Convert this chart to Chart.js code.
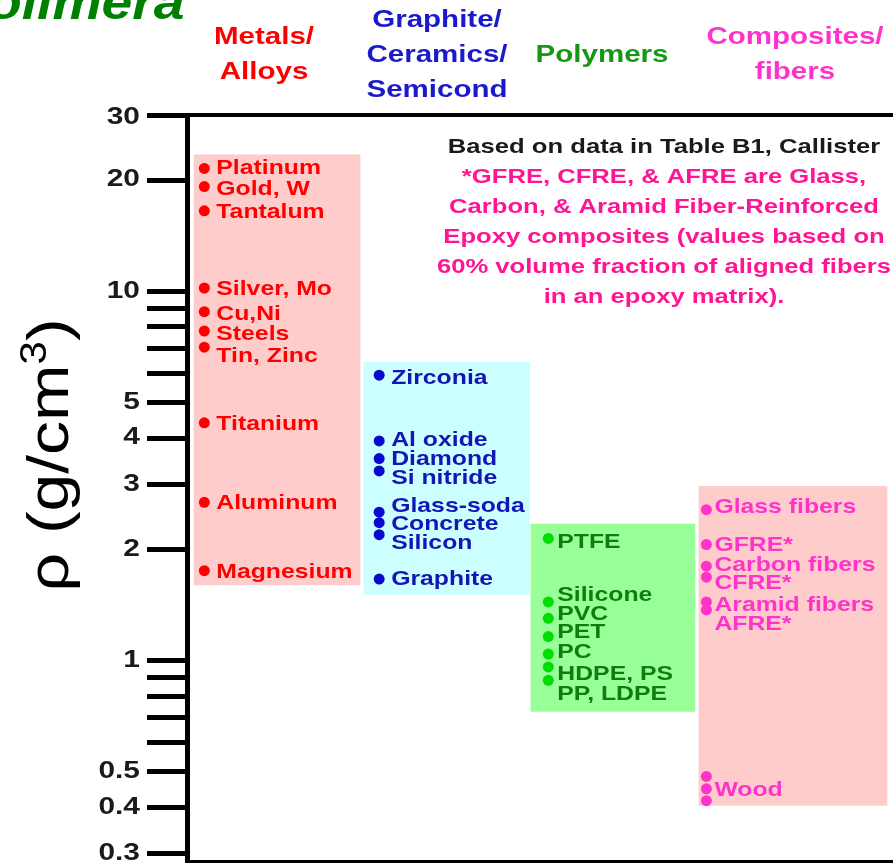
<!DOCTYPE html>
<html>
<head>
<meta charset="utf-8">
<title>Density of materials</title>
<script src="https://cdn.jsdelivr.net/npm/chart.js@4.4.0/dist/chart.umd.min.js"></script>
<style>
  html, body { margin: 0; padding: 0; background: #fff; overflow: hidden; }
  #wrap { width: 893px; height: 863px; overflow: hidden; position: relative; }
  canvas { display: block; }
</style>
</head>
<body>
<div id="wrap"><canvas id="densityChart" width="916" height="867"></canvas></div>
<script>
const columns = ['Metals/Alloys', 'Graphite/Ceramics/Semicond', 'Polymers', 'Composites/fibers']
const headerLines = [['Metals/', 'Alloys'], ['Graphite/', 'Ceramics/', 'Semicond'], ['Polymers'], ['Composites/', 'fibers']]

// density range of each family, g/cm3
const rangeLow = [1.6, 1.51, 0.727, 0.405]
const rangeHigh = [23.4, 6.42, 2.34, 2.96]

const metalNames = ['Platinum', 'Gold, W', 'Tantalum', 'Silver, Mo', 'Cu,Ni', 'Steels', 'Tin, Zinc', 'Titanium', 'Aluminum', 'Magnesium']
const metalDots = [21.5, 19.2, 16.5, 10.2, 8.8, 7.8, 7.05, 4.4, 2.68, 1.75]
const metalLabelAt = [21.5, 18.9, 16.4, 10.1, 8.67, 7.65, 6.67, 4.36, 2.66, 1.73]

const ceramicNames = ['Zirconia', 'Al oxide', 'Diamond', 'Si nitride', 'Glass-soda', 'Concrete', 'Silicon', 'Graphite']
const ceramicDots = [5.92, 3.93, 3.52, 3.26, 2.52, 2.36, 2.19, 1.66]
const ceramicLabelAt = [5.8, 3.95, 3.51, 3.12, 2.62, 2.34, 2.08, 1.66]

const polymerNames = ['PTFE', 'Silicone', 'PVC', 'PET', 'PC', 'HDPE, PS', 'PP, LDPE']
const polymerDots = [2.14, 1.44, 1.3, 1.16, 1.04, 0.96, 0.883]
const polymerLabelAt = [2.09, 1.5, 1.33, 1.19, 1.05, 0.917, 0.811]

const compositeNames = ['Glass fibers', 'GFRE*', 'Carbon fibers', 'CFRE*', 'Aramid fibers', 'AFRE*', 'Wood']
const compositeDots = [2.56, 2.06, 1.8, 1.68, 1.44, 1.37, 0.485, 0.449, 0.417]
const compositeLabelAt = [2.6, 2.05, 1.81, 1.62, 1.41, 1.25, 0.444]

const yTicks = [30, 20, 10, 9, 8, 7, 6, 5, 4, 3, 2, 1, 0.9, 0.8, 0.7, 0.6, 0.5, 0.4, 0.3]
const yTickLabels = ['30', '20', '10', '', '', '', '', '5', '4', '3', '2', '1', '', '', '', '', '0.5', '0.4', '0.3']

const noteLines = [
  'Based on data in Table B1, Callister',
  '*GFRE, CFRE, & AFRE are Glass,',
  'Carbon, & Aramid Fiber-Reinforced',
  'Epoxy composites (values based on',
  '60% volume fraction of aligned fibers',
  'in an epoxy matrix).'
]

const allNames = [metalNames, ceramicNames, polymerNames, compositeNames]
const allDots = [metalDots, ceramicDots, polymerDots, compositeDots]
const allLabelAt = [metalLabelAt, ceramicLabelAt, polymerLabelAt, compositeLabelAt]

// layout + colours
const colPos = [0.02, 1.0, 1.96, 3.0]
const boxWidth = [166, 166, 164, 188]
const dotShift = [-0.42, -0.39, -0.373, -0.5]
const labelGap = [12, 12, 9, 8]
const boxColor = ['#ffcccc', '#ccffff', '#99ff99', '#ffcccc']
const dotColor = ['#ff0000', '#0a0acc', '#00dd00', '#ff33cc']
const labelColor = ['#ff0000', '#1515b5', '#0d7d0d', '#ff33cc']
const headerColor = ['#ff0000', '#1a1acc', '#159915', '#ff33cc']
const headerX = [264, 437, 602, 795]
const headerY = [[37, 72], [20, 55, 90], [55], [37, 72]]
const labelFont = 'bold 21px "Liberation Sans", Arial, sans-serif'

let drawText = function(ctx, text, x, y, font, color, align, sx, baseline) {
  ctx.save()
  ctx.font = font
  ctx.fillStyle = color
  ctx.textBaseline = baseline || 'middle'
  ctx.textAlign = 'left'
  let w = ctx.measureText(text).width * sx
  let left = align === 'center' ? x - w / 2 : (align === 'right' ? x - w : x)
  ctx.translate(left, y)
  ctx.scale(sx, 1)
  ctx.fillText(text, 0, 0)
  ctx.restore()
}

const textPlugin = {
  id: 'textPlugin',
  afterDatasetsDraw(chart) {
    const ctx = chart.ctx
    const xs = chart.scales.x
    const ys = chart.scales.y
    allNames.forEach((names, c) => {
      let x = xs.getPixelForValue(colPos[c] + dotShift[c]) + labelGap[c]
      names.forEach((n, j) => {
        drawText(ctx, n, x, ys.getPixelForValue(allLabelAt[c][j]), labelFont, labelColor[c], 'left', 1.18)
      })
    })
  },
  afterDraw(chart) {
    const ctx = chart.ctx
    const ys = chart.scales.y
    // tick labels
    yTicks.forEach((v, i) => {
      if (!yTickLabels[i]) return
      let y = ys.getPixelForValue(v)
      if (i === 0) y += 3
      drawText(ctx, yTickLabels[i], ys.right - 47, y, 'bold 23px "Liberation Sans", Arial, sans-serif', '#1a1a1a', 'right', 1.3)
    })
    // column headers
    headerLines.forEach((lines, c) => {
      lines.forEach((t, k) => {
        drawText(ctx, t, headerX[c], headerY[c][k], 'bold 24px "Liberation Sans", Arial, sans-serif', headerColor[c], 'center', 1.23)
      })
    })
    // note
    noteLines.forEach((t, k) => {
      drawText(ctx, t, 664, 147 + k * 30, 'bold 21px "Liberation Sans", Arial, sans-serif', k === 0 ? '#1a1a1a' : '#ff1493', 'center', 1.22)
    })
    // cropped title at top left
    drawText(ctx, 'olimera', -12, 19, 'italic bold 48px "Liberation Sans", Arial, sans-serif', '#008000', 'left', 1.15, 'alphabetic')
    // y axis title with superscript
    ctx.save()
    ctx.translate(52, 455)
    ctx.rotate(-Math.PI / 2)
    ctx.scale(1.17, 1)
    ctx.fillStyle = '#000'
    ctx.textBaseline = 'middle'
    ctx.textAlign = 'left'
    let big = '58px "Liberation Sans", Arial, sans-serif'
    let small = '36px "Liberation Sans", Arial, sans-serif'
    ctx.font = big
    let w1 = ctx.measureText('ρ (g/cm').width
    let w3 = ctx.measureText(')').width
    ctx.font = small
    let w2 = ctx.measureText('3').width
    let x0 = -(w1 + w2 + w3) / 2
    ctx.font = big
    ctx.fillText('ρ (g/cm', x0, 0)
    ctx.font = small
    ctx.fillText('3', x0 + w1, -16)
    ctx.font = big
    ctx.fillText(')', x0 + w1 + w2, 0)
    ctx.restore()
  }
}

let boxSets = columns.map((name, i) => ({
  type: 'bar',
  label: name,
  data: [{x: colPos[i], y: [rangeLow[i], rangeHigh[i]]}],
  backgroundColor: boxColor[i],
  barThickness: boxWidth[i],
  grouped: false,
  borderWidth: 0,
  order: 2
}))

let dotSets = allDots.map((vals, i) => ({
  type: 'scatter',
  label: columns[i] + ' materials',
  data: vals.map(v => ({x: colPos[i] + dotShift[i], y: v})),
  pointRadius: 5.5,
  pointBackgroundColor: dotColor[i],
  pointBorderColor: dotColor[i],
  pointBorderWidth: 0,
  showLine: false,
  order: 1
}))

var ctx = document.getElementById('densityChart').getContext('2d')
new Chart(ctx, {
  type: 'bar',
  data: { datasets: boxSets.concat(dotSets) },
  options: {
    responsive: false,
    animation: false,
    layout: { padding: { top: 115, bottom: 2.5, left: 0, right: 0 } },
    plugins: { legend: { display: false }, tooltip: { enabled: false } },
    scales: {
      x: {
        type: 'linear', min: -0.5, max: 3.679, bounds: 'data', offset: false,
        grid: { display: false, drawTicks: false, offset: false },
        ticks: { display: false },
        border: { display: true, color: '#000', width: 4 }
      },
      xTop: {
        type: 'linear', position: 'top', min: 0, max: 1,
        grid: { display: false, drawTicks: false },
        ticks: { display: false },
        border: { display: true, color: '#000', width: 4 }
      },
      y: {
        type: 'logarithmic', min: 0.2853, max: 30, bounds: 'data',
        afterBuildTicks: s => { s.ticks = yTicks.map(v => ({value: v})) },
        afterFit: s => { s.width = 187 },
        ticks: { display: false },
        grid: { drawOnChartArea: false, drawTicks: true, tickLength: 40, tickWidth: 5, tickColor: '#000' },
        border: { display: true, color: '#000', width: 5 }
      }
    }
  },
  plugins: [textPlugin]
})
</script>
</body>
</html>
